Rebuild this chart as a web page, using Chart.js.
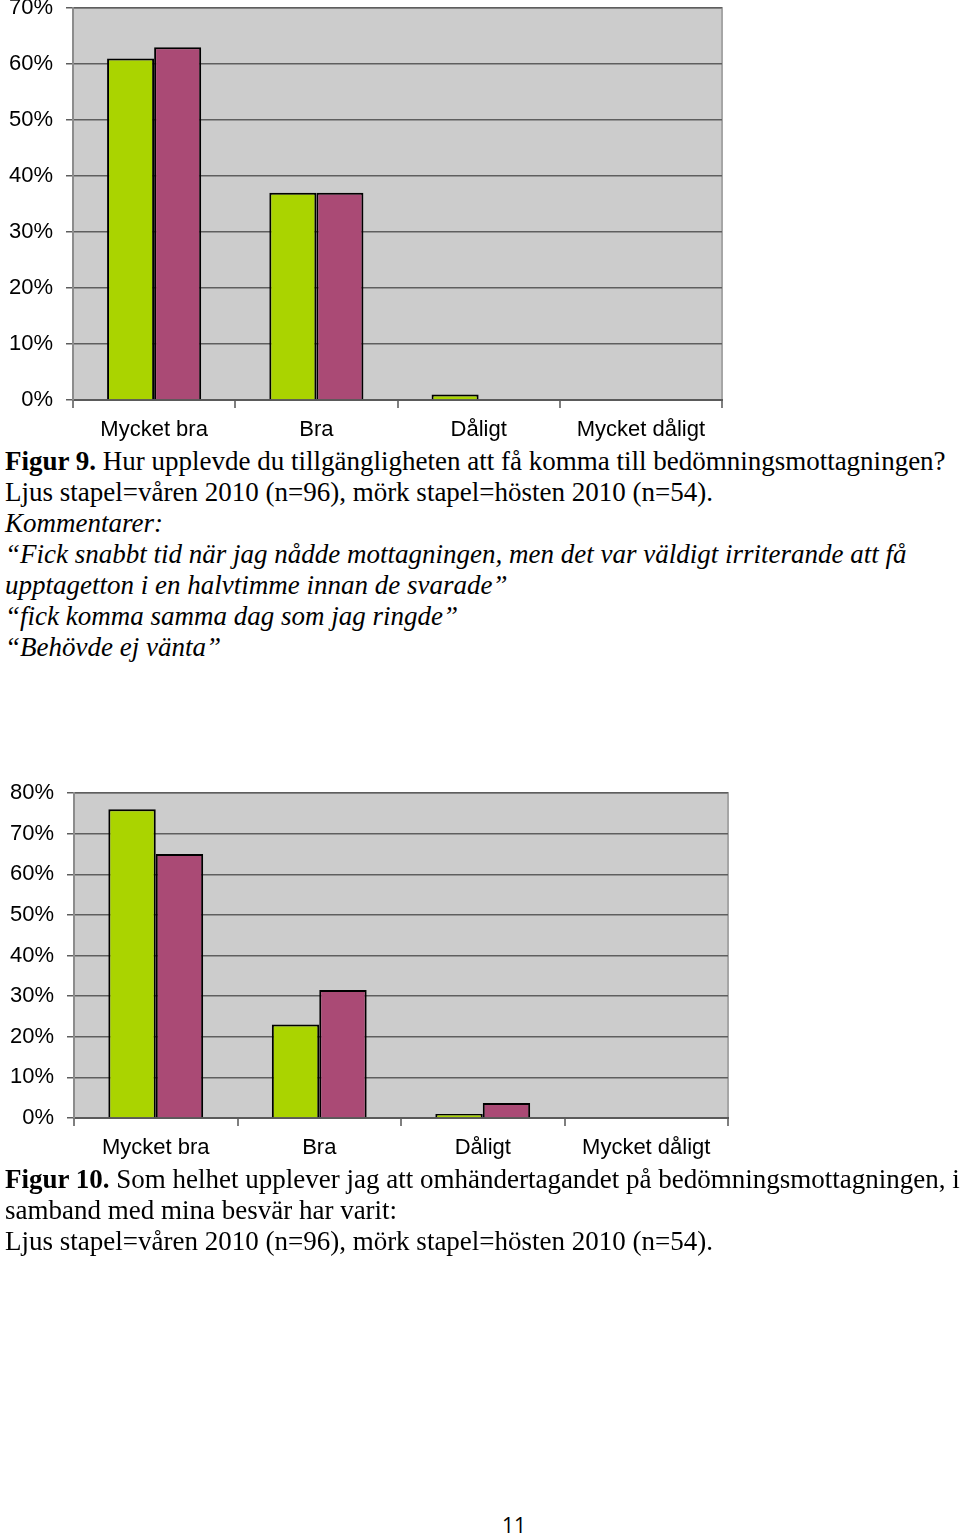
<!DOCTYPE html>
<html>
<head>
<meta charset="utf-8">
<script src="https://cdn.jsdelivr.net/npm/chart.js@4.4.0/dist/chart.umd.min.js"></script>
<style>
    body { margin: 0; background: #ffffff; }
    #page { position: relative; width: 960px; height: 1535px; overflow: hidden; background: #ffffff; }
    canvas { position: absolute; left: 0; }
    .txt { position: absolute; left: 5px; font-family: "Liberation Serif", "Times New Roman", serif; font-size: 27px; line-height: 31px; color: #000; white-space: nowrap; }
    .txt i { font-style: italic; }
    #pagenr { position: absolute; left: 0; width: 1028px; text-align: center; top: 1511px; font-family: "Open Sans", sans-serif; font-size: 21px; color: #000; }
</style>
</head>
<body>
<div id="page">
    <canvas id="chart1" width="730" height="449" style="top:-4px"></canvas>
    <div class="txt" style="top:446px">
        <b>Figur 9.</b> Hur upplevde du tillgängligheten att få komma till bedömningsmottagningen?<br>
        Ljus stapel=våren 2010 (n=96), mörk stapel=hösten 2010 (n=54).<br>
        <i>Kommentarer:</i><br>
        <i>“Fick snabbt tid när jag nådde mottagningen, men det var väldigt irriterande att få</i><br>
        <i>upptagetton i en halvtimme innan de svarade”</i><br>
        <i>“fick komma samma dag som jag ringde”</i><br>
        <i>“Behövde ej vänta”</i>
    </div>
    <canvas id="chart2" width="736" height="390" style="top:775px"></canvas>
    <div class="txt" style="top:1164px">
        <b>Figur 10.</b> Som helhet upplever jag att omhändertagandet på bedömningsmottagningen, i<br>
        samband med mina besvär har varit:<br>
        Ljus stapel=våren 2010 (n=96), mörk stapel=hösten 2010 (n=54).
    </div>
    <div id="pagenr">11</div>
</div>
<script>
// Data (percent)
const categories = ["Mycket bra", "Bra", "Dåligt", "Mycket dåligt"];

// Figur 9
const fig9Spring = [61, 37, 1, 0];
const fig9Autumn = [63, 37, 0, 0];
const fig9Ticks = [0, 10, 20, 30, 40, 50, 60, 70];

// Figur 10
const fig10Spring = [76, 23, 1, 0];
const fig10Autumn = [65, 31.5, 3.7, 0];
const fig10Ticks = [0, 10, 20, 30, 40, 50, 60, 70, 80];

const LIGHT = "#aad400";
const DARK = "#aa4a75";

// grey plot background + light frame like the Excel chart
const plotBg = {
    id: "plotBg",
    beforeDraw(chart) {
        const ctx = chart.ctx;
        const a = chart.chartArea;
        ctx.save();
        ctx.fillStyle = "#cccccc";
        ctx.fillRect(a.left, a.top, a.right - a.left, a.bottom - a.top);
        ctx.strokeStyle = "#a6a6a6";
        ctx.lineWidth = 2;
        ctx.beginPath();
        ctx.moveTo(a.left, a.top);
        ctx.lineTo(a.right, a.top);
        ctx.lineTo(a.right, a.bottom);
        ctx.stroke();
        ctx.restore();
    }
};

function makeChart(id, spring, autumn, ticks, axisW, axisH, padTop) {
    const yMax = ticks[ticks.length - 1];
    return new Chart(document.getElementById(id), {
        type: "bar",
        data: {
            labels: categories,
            datasets: [
                {
                    label: "Våren 2010",
                    data: spring,
                    backgroundColor: LIGHT,
                    borderColor: "#000000",
                    borderWidth: 2,
                },
                {
                    label: "Hösten 2010",
                    data: autumn,
                    backgroundColor: DARK,
                    borderColor: "#000000",
                    borderWidth: 2,
                },
            ],
        },
        options: {
            responsive: false,
            animation: false,
            devicePixelRatio: 1,
            layout: { autoPadding: false, padding: { top: padTop, right: 8, left: 0, bottom: 0 } },
            datasets: { bar: { categoryPercentage: 0.58, barPercentage: 1.0 } },
            plugins: { legend: { display: false }, tooltip: { enabled: false } },
            scales: {
                x: {
                    grid: { display: true, drawOnChartArea: false, drawTicks: true, offset: true, tickLength: 8, color: "#7f7f7f", lineWidth: 2 },
                    border: { display: true, color: "#5a5a5a", width: 2 },
                    ticks: { color: "#000000", padding: 9, font: { family: "Liberation Sans", size: 22 } },
                    afterFit(scale) {
                        scale.height = axisH;
                        scale.paddingLeft = 0;
                        scale.paddingRight = 0;
                    },
                },
                y: {
                    min: 0,
                    max: yMax,
                    afterBuildTicks(scale) { scale.ticks = ticks.map(v => ({ value: v })); },
                    grid: { color: "#5e5e5e", lineWidth: 1.5, tickLength: 7 },
                    border: { display: true, color: "#8c8c8c", width: 2 },
                    ticks: {
                        color: "#000000",
                        padding: 13,
                        font: { family: "Liberation Sans", size: 22 },
                        callback: v => v + "%",
                    },
                    afterFit(scale) {
                        scale.width = axisW;
                        scale.paddingTop = 0;
                        scale.paddingBottom = 0;
                    },
                },
            },
        },
        plugins: [plotBg],
    });
}

let chart1;
let chart2;
window.addEventListener("load", function () {
    chart1 = makeChart("chart1", fig9Spring, fig9Autumn, fig9Ticks, 73, 45, 12);
    chart2 = makeChart("chart2", fig10Spring, fig10Autumn, fig10Ticks, 74, 47, 18);
});
</script>
</body>
</html>
